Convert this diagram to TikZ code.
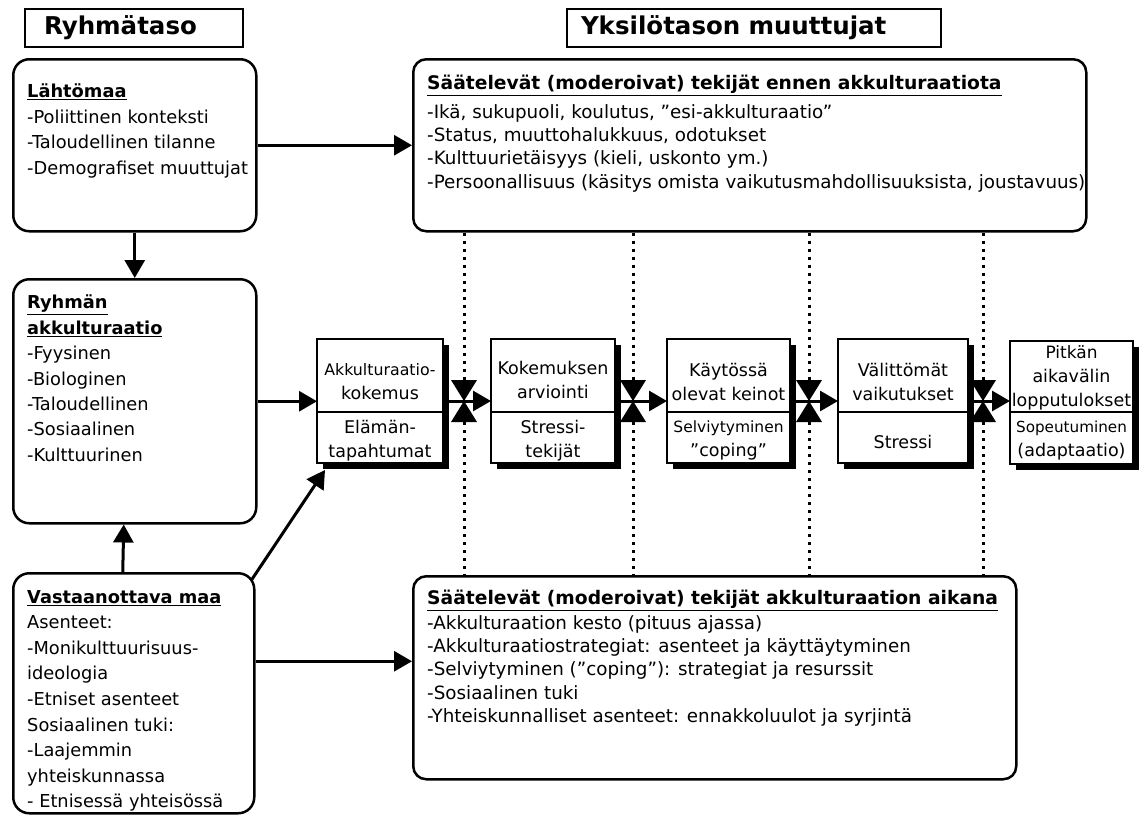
\documentclass[tikz,border=0pt]{standalone}
\usepackage{fontspec}
\setmainfont{DejaVu Sans}
\usetikzlibrary{arrows.meta,shadows}

\newcommand{\stagegap}[1]{\rule{0pt}{#1}}

\tikzset{
  headbox/.style={draw, line width=2pt, anchor=north west, align=left, minimum height=38pt,
    inner ysep=0pt, font=\fontsize{24.5}{28}\selectfont\bfseries},
  grpbox/.style={draw, line width=2.5pt, rounded corners=16pt, anchor=north west, inner sep=0pt},
  modbox/.style={grpbox, rounded corners=13pt},
  grptxt/.style={anchor=north west, align=left, inner sep=0pt, font=\fontsize{17.8}{25.4}\selectfont},
  modtxt/.style={grptxt, font=\fontsize{18.3}{23.4}\selectfont},
  modhead/.style={font=\fontsize{18.7}{23.4}\selectfont\bfseries},
  stage/.style={draw, fill=white, line width=2pt, inner sep=0pt, outer sep=0pt, align=center,
    font=\fontsize{17.5}{24}\selectfont,
    drop shadow={shadow xshift=6pt, shadow yshift=-6pt, opacity=1, fill=black}},
  flow/.style={line width=3pt, -{Triangle[length=18pt,width=20pt]}},
  modline/.style={line width=3pt, dash pattern=on 3pt off 5pt}
}

\begin{document}
\begin{tikzpicture}[x=1pt,y=-1pt]
  \useasboundingbox (0,0) rectangle (1139,814);

  % otsikot
  \node[headbox, inner xsep=19pt, text width=180pt] (ryhmataso) at (24,8) {Ryhmätaso};
  \node[headbox, inner xsep=14pt, text width=346pt] (yksilotaso) at (566,8) {Yksilötason muuttujat};

  % ryhmätaso
  \node[grpbox, minimum width=243pt, minimum height=172pt] (lahto) at (12,58) {};
  \node[grptxt] (lahtotxt) at (27,84) {\underline{\textbf{Lähtömaa}}\\-Poliittinen konteksti\\
    -Taloudellinen tilanne\\-Demografiset muuttujat};
  \node[grpbox, minimum width=243pt, minimum height=244pt] (ryhma) at (12,278) {};
  \node[grptxt] (ryhmatxt) at (27,295) {\underline{\textbf{Ryhmän}}\\\underline{\textbf{akkulturaatio}}\\
    -Fyysinen\\-Biologinen\\-Taloudellinen\\-Sosiaalinen\\-Kulttuurinen};
  \node[grpbox, minimum width=241pt, minimum height=240pt] (vast) at (12,572) {};
  \node[grptxt, font=\fontsize{17.8}{25.6}\selectfont] (vasttxt) at (27,590)
    {\underline{\textbf{Vastaanottava maa}}\\Asenteet:\\
    -Monikulttuurisuus-\\ideologia\\-Etniset asenteet\\Sosiaalinen tuki:\\-Laajemmin\\
    yhteiskunnassa\\- Etnisessä yhteisössä};

  % yksilötaso: moderoivat tekijät
  \node[modbox, minimum width=673pt, minimum height=172pt] (ennen) at (412,58) {};
  \node[modtxt] (ennentxt) at (427,75)
    {\underline{{\fontsize{18.7}{23.4}\selectfont\bfseries Säätelevät (moderoivat) tekijät ennen akkulturaatiota}}\\[5pt]
    -Ikä, sukupuoli, koulutus, ”esi-akkulturaatio”\\-Status, muuttohalukkuus, odotukset\\
    -Kulttuurietäisyys (kieli, uskonto ym.)\\
    -Persoonallisuus (käsitys omista vaikutusmahdollisuuksista, joustavuus)};
  \node[modbox, minimum width=603pt, minimum height=203pt] (aikana) at (412,575) {};
  \node[modtxt] (aikanatxt) at (427,590)
    {\underline{{\fontsize{18.7}{23.4}\selectfont\bfseries Säätelevät (moderoivat) tekijät akkulturaation aikana}}\\[1pt]
    -Akkulturaation kesto (pituus ajassa)\\-Akkulturaatiostrategiat: asenteet ja käyttäytyminen\\
    -Selviytyminen (”coping”): strategiat ja resurssit\\-Sosiaalinen tuki\\
    -Yhteiskunnalliset asenteet: ennakkoluulot ja syrjintä};

  % vaiheet
  \node[stage, minimum width=126pt, minimum height=73pt, anchor=north west] (s1) at (317,339)
    {\fontsize{15.8}{21}\selectfont\stagegap{25pt}Akkulturaatio-\\kokemus};
  \node[stage, minimum width=126pt, minimum height=51pt, anchor=north] (s1b) at (s1.south)
    {\stagegap{19.5pt}Elämän-\\tapahtumat};
  \node[stage, minimum width=124pt, minimum height=73pt, anchor=north west] (s2) at (491,339)
    {\stagegap{21.5pt}Kokemuksen\\arviointi};
  \node[stage, minimum width=124pt, minimum height=51pt, anchor=north] (s2b) at (s2.south)
    {\stagegap{19.5pt}Stressi-\\tekijät};
  \node[stage, minimum width=123pt, minimum height=73pt, anchor=north west] (s3) at (667,339)
    {\stagegap{27pt}Käytössä\\olevat keinot};
  \node[stage, minimum width=123pt, minimum height=51pt, anchor=north] (s3b) at (s3.south)
    {\fontsize{15.5}{21}\selectfont\stagegap{18pt}Selviytyminen\\”coping”};
  \node[stage, minimum width=130pt, minimum height=73pt, anchor=north west] (s4) at (838,339)
    {\stagegap{27pt}Välittömät\\vaikutukset};
  \node[stage, minimum width=130pt, minimum height=51pt, anchor=north] (s4b) at (s4.south)
    {\stagegap{23pt}Stressi};
  \node[stage, minimum width=123pt, minimum height=71pt, anchor=north west] (s5) at (1010,341)
    {\fontsize{17}{21.5}\selectfont\stagegap{16.5pt}Pitkän\\aikavälin\\lopputulokset};
  \node[stage, minimum width=123pt, minimum height=52pt, anchor=north] (s5b) at (s5.south)
    {\fontsize{15.2}{20}\selectfont\stagegap{16pt}Sopeutuminen\\(adaptaatio)};

  % moderoivat vaikutukset
  \foreach \x [count=\i] in {464,633,809,983} {
    \coordinate (m\i) at (\x,401);
    \fill (\x-13,380) -- (\x+13,380) -- (m\i) -- cycle;
    \fill (\x-13,422) -- (\x+13,422) -- (m\i) -- cycle;
    \draw[modline] (ennen.south -| m\i) -- (\x,380);
    \draw[modline] (\x,422) -- (aikana.north -| m\i);
  }

  % nuolet
  \draw[flow] (lahto) -- (ennen);
  \draw[flow] (lahto) -- (ryhma);
  \draw[flow] ([xshift=-11pt]vast.north) -- ([xshift=-11pt]ryhma.south);
  \draw[flow] ([yshift=32pt]vast.east) -- ([yshift=32pt]vast.east -| aikana.west);
  \draw[flow] ([shift={(-4pt,-8pt)}]vast.north east) -- ([shift={(8pt,-7pt)}]s1b.south west);
  \draw[flow] (ryhma.east) -- (ryhma.east -| s1.west);
  \draw[flow] (s1.east |- m1) -- (s2.west |- m1);
  \draw[flow] (s2.east |- m2) -- (s3.west |- m2);
  \draw[flow] (s3.east |- m3) -- (s4.west |- m3);
  \draw[flow] (s4.east |- m4) -- (s5.west |- m4);
\end{tikzpicture}
\end{document}
